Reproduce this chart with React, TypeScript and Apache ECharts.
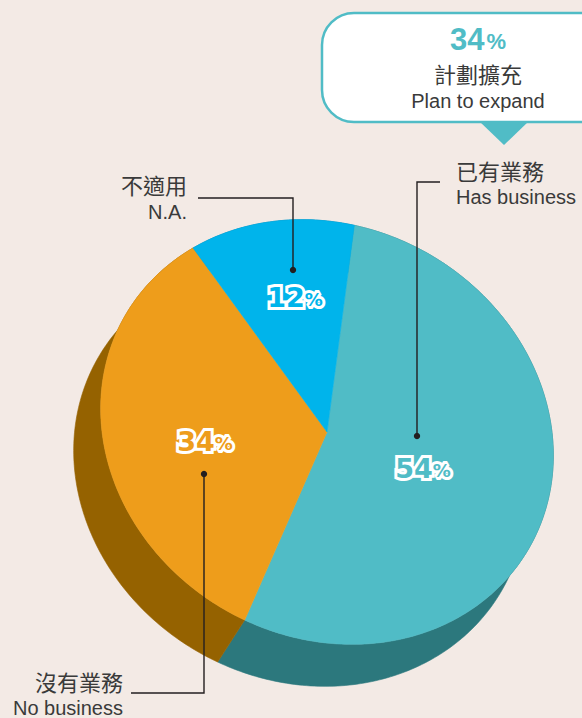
import React, { useEffect, useRef } from "react";
import * as echarts from "echarts";

// ---- data ----
const categories = ["已有業務", "沒有業務", "不適用"];
const categoriesEn = ["Has business", "No business", "N.A."];
const values = [54, 34, 12];
const expandValue = 34;
const expandLabel = "計劃擴充";
const expandLabelEn = "Plan to expand";

// ---- styles ----
const topColors = ["#50bcc6", "#ee9d1b", "#00b4eb"];
const sideColors = ["#2c787d", "#956200", "#0079a6"];
const BG = "#f3eae5";
const TEXT = "#3a3a3a";
const LINE = "#231f20";

// ---- geometry (layout) ----
const CX = 327;
const CY = 432;
const RA = 233;
const RB = 205;
const ROT = (30 * Math.PI) / 180;
const DX = -27;
const DY = 42;
const START = (-110 * Math.PI) / 180;

const total = values.reduce((s, v) => s + v, 0);

function pt(t: number, ox = 0, oy = 0): number[] {
  const u = RA * Math.cos(t);
  const v = RB * Math.sin(t);
  return [
    CX + ox + u * Math.cos(ROT) - v * Math.sin(ROT),
    CY + oy + u * Math.sin(ROT) + v * Math.cos(ROT),
  ];
}

function sliceAngles(i: number): [number, number] {
  let acc = 0;
  for (let k = 0; k < i; k++) acc += values[k];
  const t1 = START + (acc / total) * Math.PI * 2;
  const t2 = START + ((acc + values[i]) / total) * Math.PI * 2;
  return [t1, t2];
}

function arc(t1: number, t2: number, ox = 0, oy = 0): number[][] {
  const n = Math.max(2, Math.ceil(((t2 - t1) * 180) / Math.PI));
  const pts: number[][] = [];
  for (let k = 0; k <= n; k++) pts.push(pt(t1 + ((t2 - t1) * k) / n, ox, oy));
  return pts;
}

const FONT = "'Liberation Sans', Arial, sans-serif";
const CJK = "'Noto Sans CJK TC', 'Noto Sans CJK SC', sans-serif";
const NUM = "'DejaVu Sans', sans-serif";

// label anchor positions (layout)
const pctPos = [
  [423, 468],
  [205, 441],
  [295, 297],
];

function pctLabel(i: number): any[] {
  const [x, y] = pctPos[i];
  const rich = (fill: string, stroke?: string) => ({
    n: { fontSize: 27, fontWeight: "bold", fontFamily: NUM, fill, stroke, lineWidth: stroke ? 6 : 0 },
    p: { fontSize: 18, fontWeight: "bold", fontFamily: NUM, fill, stroke, lineWidth: stroke ? 6 : 0, padding: [4, 0, 0, 0] },
  });
  const text = `{n|${values[i]}}{p|%}`;
  return [
    {
      type: "text",
      x,
      y,
      z: 20,
      style: { text, align: "center", verticalAlign: "middle", rich: rich("#fff", "#fff") },
    },
    {
      type: "text",
      x,
      y,
      z: 21,
      style: { text, align: "center", verticalAlign: "middle", rich: rich(topColors[i]) },
    },
  ];
}

function txt(text: string, x: number, y: number, align: string, size: number, family: string): any {
  return {
    type: "text",
    x,
    y,
    z: 30,
    style: { text, fill: TEXT, fontSize: size, fontFamily: family, align, verticalAlign: "middle" },
  };
}

function leader(points: number[][], dot: number[]): any[] {
  return [
    { type: "polyline", z: 25, shape: { points }, style: { stroke: LINE, lineWidth: 1.4, fill: "none" } },
    { type: "circle", z: 26, shape: { cx: dot[0], cy: dot[1], r: 3.2 }, style: { fill: LINE } },
  ];
}

export default function App() {
  const ref = useRef<HTMLDivElement>(null);
  useEffect(() => {
    document.body.style.margin = "0";
    document.body.style.background = BG;
    if (!ref.current) return;
    const chart = echarts.init(ref.current, undefined, { renderer: "svg" });
    const seriesData = values.map((v, i) => ({ value: [v], name: categories[i] }));
    const option: any = {
      animation: false,
      backgroundColor: BG,
      series: [
        {
          type: "custom",
          coordinateSystem: "none",
          z: 1,
          silent: true,
          data: seriesData,
          renderItem: (params: any) => {
            const i = params.dataIndex;
            const [t1, t2] = sliceAngles(i);
            const top = arc(t1, t2);
            const bottom = arc(t1, t2, DX, DY).reverse();
            return {
              type: "polygon",
              shape: { points: top.concat(bottom) },
              style: { fill: sideColors[i], stroke: sideColors[i], lineWidth: 0.6 },
            };
          },
        },
        {
          type: "custom",
          coordinateSystem: "none",
          z: 2,
          silent: true,
          data: seriesData,
          renderItem: (params: any) => {
            const i = params.dataIndex;
            const [t1, t2] = sliceAngles(i);
            const pts = [[CX, CY]].concat(arc(t1, t2));
            return {
              type: "polygon",
              shape: { points: pts },
              style: { fill: topColors[i], stroke: topColors[i], lineWidth: 0.6 },
            };
          },
        },
      ],
      graphic: [
        // callout
        {
          type: "rect",
          z: 10,
          shape: { x: 322, y: 13, width: 320, height: 109, r: 32 },
          style: { fill: "#ffffff", stroke: topColors[0], lineWidth: 2.5 },
        },
        {
          type: "polygon",
          z: 11,
          shape: { points: [[479, 121], [529, 121], [504, 145]] },
          style: { fill: topColors[0] },
        },
        {
          type: "text",
          x: 478,
          y: 39,
          z: 30,
          style: {
            text: `{n|${expandValue}}{p|%}`,
            align: "center",
            verticalAlign: "middle",
            rich: {
              n: { fontSize: 31, fontWeight: "bold", fontFamily: FONT, fill: topColors[0] },
              p: { fontSize: 22, fontWeight: "bold", fontFamily: FONT, fill: topColors[0], padding: [5, 0, 0, 2] },
            },
          },
        },
        txt(expandLabel, 478, 73, "center", 22, CJK),
        txt(expandLabelEn, 478, 101, "center", 20, FONT),
        txt(categories[0], 456, 170, "left", 22, CJK),
        txt(categoriesEn[0], 456, 197, "left", 20, FONT),
        txt(categories[2], 187, 184, "right", 22, CJK),
        txt(categoriesEn[2], 187, 212, "right", 20, FONT),
        txt(categories[1], 123, 681, "right", 22, CJK),
        txt(categoriesEn[1], 123, 708, "right", 20, FONT),
        ...leader([[440, 182], [417, 182], [417, 436]], [417, 436]),
        ...leader([[198, 198], [293, 198], [293, 270]], [293, 270]),
        ...leader([[131, 693], [204, 693], [204, 474]], [204, 474]),
        ...pctLabel(0),
        ...pctLabel(1),
        ...pctLabel(2),
      ],
    };
    chart.setOption(option);
    return () => chart.dispose();
  }, []);
  return <div ref={ref} style={{ width: 582, height: 718 }} />;
}
